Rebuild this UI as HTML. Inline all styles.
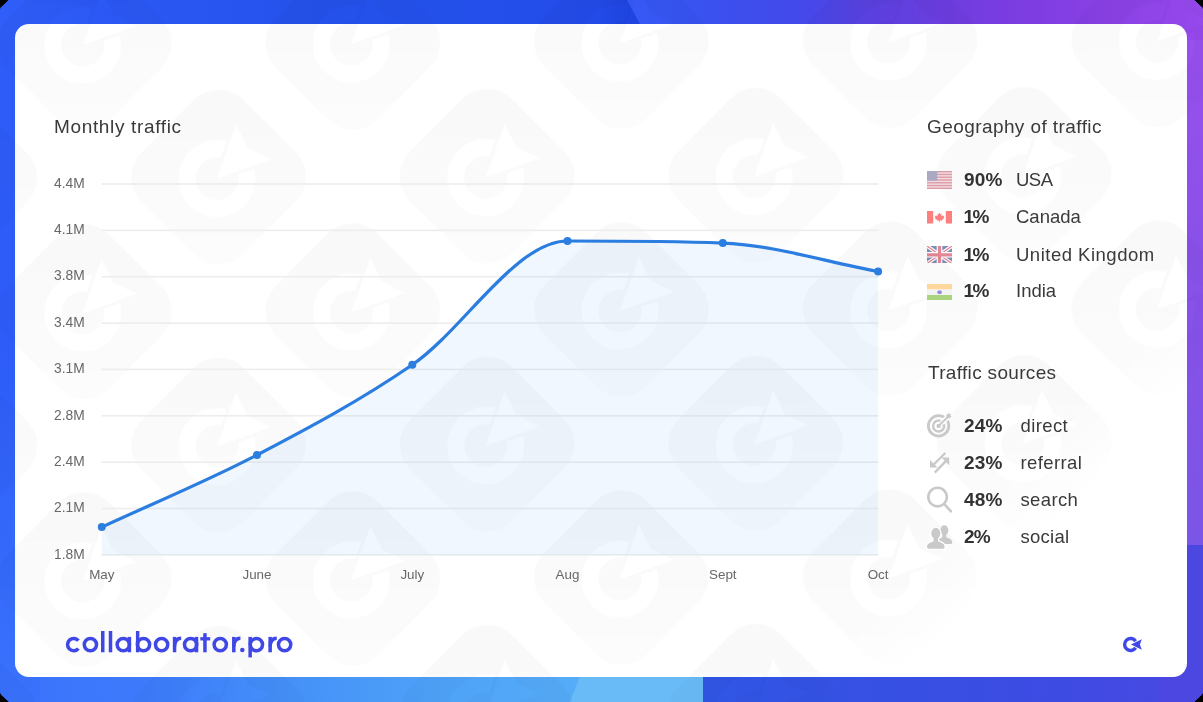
<!DOCTYPE html>
<html><head><meta charset="utf-8">
<style>
html,body{margin:0;padding:0;background:#000;}
body{width:1203px;height:702px;overflow:hidden;position:relative;font-family:"Liberation Sans",sans-serif;}
#bg{position:absolute;left:0;top:0;}
#card{position:absolute;left:15px;top:24px;width:1172px;height:653px;border-radius:14px;background:#fff;overflow:hidden;}
svg.wm{position:absolute;left:0;top:0;}
#chart{position:absolute;left:0;top:0;}
#txt{position:absolute;left:0;top:0;width:1203px;height:702px;will-change:transform;transform:translateZ(0);opacity:.999;}
.t{position:absolute;color:#3a3a3a;font-size:19px;white-space:nowrap;line-height:20px;}
.yl{position:absolute;left:54px;color:#686868;font-size:13.8px;line-height:16px;white-space:nowrap;}
.xl{position:absolute;top:567px;width:60px;text-align:center;color:#686868;font-size:13.4px;line-height:16px;white-space:nowrap;}
.pc{position:absolute;left:964px;color:#333;font-weight:bold;font-size:19px;letter-spacing:.2px;line-height:20px;white-space:nowrap;}
.nm{position:absolute;color:#3a3a3a;font-size:18.5px;line-height:20px;white-space:nowrap;}
.fl{position:absolute;left:927px;width:25px;opacity:.5;}
.ic{position:absolute;}
</style></head><body>
<svg id="bg" width="1203" height="702" viewBox="0 0 1203 702">
<defs>
<clipPath id="bgc"><path d="M9 0 H1194 L1202 7.5 L1203 10 V692 L1202 694.5 L1194 702 H9 L1 694.5 L0 692 V10 L1 7.5 Z"/></clipPath>
<linearGradient id="gl" x1="0" y1="0" x2="0" y2="1"><stop offset="0" stop-color="#2e5cf8"/><stop offset=".5" stop-color="#2d5cf8"/><stop offset="1" stop-color="#3a72fc"/></linearGradient>
<linearGradient id="gr" x1="0" y1="0" x2="0" y2="1"><stop offset="0" stop-color="#9a4fee"/><stop offset=".45" stop-color="#8a50ea"/><stop offset="1" stop-color="#7b55e8"/></linearGradient>
<linearGradient id="gt1" gradientUnits="userSpaceOnUse" x1="0" y1="0" x2="650" y2="0"><stop offset="0" stop-color="#2f5ef8"/><stop offset=".15" stop-color="#2c59f5"/><stop offset=".46" stop-color="#2552eb"/><stop offset=".77" stop-color="#244fea"/><stop offset=".92" stop-color="#234be8"/><stop offset=".95" stop-color="#2046e2"/><stop offset="1" stop-color="#1f44e0"/></linearGradient>
<linearGradient id="gt2" gradientUnits="userSpaceOnUse" x1="630" y1="0" x2="1203" y2="0"><stop offset="0" stop-color="#3659f5"/><stop offset=".12" stop-color="#3952f0"/><stop offset=".3" stop-color="#4449ea"/><stop offset=".42" stop-color="#5a40de"/><stop offset=".65" stop-color="#7a3ce0"/><stop offset=".82" stop-color="#8840e4"/><stop offset="1" stop-color="#9649ec"/></linearGradient>
<linearGradient id="gb1" gradientUnits="userSpaceOnUse" x1="0" y1="0" x2="703" y2="0"><stop offset="0" stop-color="#3a72fc"/><stop offset=".21" stop-color="#3d7bfb"/><stop offset=".43" stop-color="#4592f8"/><stop offset=".64" stop-color="#4fa3f8"/><stop offset=".82" stop-color="#55acf7"/><stop offset="1" stop-color="#58aef7"/></linearGradient>
<linearGradient id="gb2" gradientUnits="userSpaceOnUse" x1="703" y1="0" x2="1203" y2="0"><stop offset="0" stop-color="#3056e5"/><stop offset=".4" stop-color="#374fe3"/><stop offset=".7" stop-color="#3d4be3"/><stop offset="1" stop-color="#4948e1"/></linearGradient>
</defs>
<g clip-path="url(#bgc)">
<rect width="1203" height="702" fill="#3a5af0"/>
<rect x="0" y="0" width="40" height="702" fill="url(#gl)"/>
<rect x="1160" y="0" width="43" height="545" fill="url(#gr)"/>
<rect x="1160" y="545" width="43" height="157" fill="#4c47e0"/>
<rect x="0" y="0" width="660" height="40" fill="url(#gt1)"/>
<path d="M627 0 H1203 V40 H648.7 Z" fill="url(#gt2)"/>
<rect x="40" y="640" width="663" height="62" fill="url(#gb1)"/>
<path d="M594 640 H703 V702 H570 Z" fill="#69bbf7"/>
<rect x="703" y="640" width="457" height="62" fill="url(#gb2)"/>
</g>
</svg>
<div id="card">
</div>
<svg class="wm" width="1203" height="702" viewBox="0 0 1203 702">
<defs>
<mask id="lm" maskUnits="userSpaceOnUse" x="-110" y="-110" width="220" height="220">
 <rect x="-110" y="-110" width="220" height="220" fill="#fff"/>
 <g transform="rotate(-45) translate(-2 0)">
 <circle cx="0" cy="0" r="30" fill="none" stroke="#000" stroke-width="17"/>
 <path d="M-7 0 L60 -33 L50 0 L60 33 Z" fill="#fff"/>
 <path d="M0 0 L51.5 -24.7 L43 0 L51.5 24.7 Z" fill="#000"/>
 </g>
</mask>
<linearGradient id="wg" x1="1" y1="0" x2="0" y2="1"><stop offset="0.1" stop-color="#000" stop-opacity="0.025"/><stop offset="0.9" stop-color="#000" stop-opacity="0.012"/></linearGradient>
<g id="wm"><g mask="url(#lm)"><rect x="-72" y="-72" width="144" height="144" rx="35" transform="rotate(-45)" fill="url(#wg)"/></g></g>
<linearGradient id="fg" gradientUnits="userSpaceOnUse" x1="740" y1="740" x2="800" y2="800"><stop offset="0" stop-color="#fff"/><stop offset="1" stop-color="#000"/></linearGradient>
<mask id="fm" maskUnits="userSpaceOnUse" x="0" y="0" width="1203" height="702"><rect width="1203" height="702" fill="url(#fg)"/></mask>
<clipPath id="oc"><path d="M9 0 H1194 L1202 7.5 L1203 10 V692 L1202 694.5 L1194 702 H9 L1 694.5 L0 692 V10 L1 7.5 Z"/></clipPath>
</defs>
<g clip-path="url(#oc)"><g mask="url(#fm)"><g transform="matrix(1 -0.0035 0 1 0 0.3)"><use href="#wm" x="-50.1" y="-90.5"/><use href="#wm" x="218.5" y="-90.5"/><use href="#wm" x="487.1" y="-90.5"/><use href="#wm" x="755.7" y="-90.5"/><use href="#wm" x="1024.3" y="-90.5"/><use href="#wm" x="1292.9" y="-90.5"/><use href="#wm" x="-50.1" y="177.5"/><use href="#wm" x="218.5" y="177.5"/><use href="#wm" x="84.2" y="43.5"/><use href="#wm" x="487.1" y="177.5"/><use href="#wm" x="352.8" y="43.5"/><use href="#wm" x="755.7" y="177.5"/><use href="#wm" x="621.4" y="43.5"/><use href="#wm" x="1024.3" y="177.5"/><use href="#wm" x="890.0" y="43.5"/><use href="#wm" x="1292.9" y="177.5"/><use href="#wm" x="1158.6" y="43.5"/><use href="#wm" x="-50.1" y="445.5"/><use href="#wm" x="218.5" y="445.5"/><use href="#wm" x="84.2" y="311.5"/><use href="#wm" x="487.1" y="445.5"/><use href="#wm" x="352.8" y="311.5"/><use href="#wm" x="755.7" y="445.5"/><use href="#wm" x="621.4" y="311.5"/><use href="#wm" x="1024.3" y="445.5"/><use href="#wm" x="890.0" y="311.5"/><use href="#wm" x="1292.9" y="445.5"/><use href="#wm" x="1158.6" y="311.5"/><use href="#wm" x="-50.1" y="713.5"/><use href="#wm" x="218.5" y="713.5"/><use href="#wm" x="84.2" y="579.5"/><use href="#wm" x="487.1" y="713.5"/><use href="#wm" x="352.8" y="579.5"/><use href="#wm" x="755.7" y="713.5"/><use href="#wm" x="621.4" y="579.5"/><use href="#wm" x="890.0" y="579.5"/></g></g></g>
</svg>
<svg id="chart" width="1203" height="702" viewBox="0 0 1203 702">
<rect x="101.5" y="183.2" width="777" height="1.6" fill="#ededed"/><rect x="101.5" y="229.6" width="777" height="1.6" fill="#ededed"/><rect x="101.5" y="275.9" width="777" height="1.6" fill="#ededed"/><rect x="101.5" y="322.3" width="777" height="1.6" fill="#ededed"/><rect x="101.5" y="368.6" width="777" height="1.6" fill="#ededed"/><rect x="101.5" y="415.0" width="777" height="1.6" fill="#ededed"/><rect x="101.5" y="461.4" width="777" height="1.6" fill="#ededed"/><rect x="101.5" y="507.7" width="777" height="1.6" fill="#ededed"/><rect x="101.5" y="554.1" width="777" height="1.6" fill="#ededed"/>
<path d="M101.80 527.10 C153.53 503.07 205.27 482.04 257.00 455.00 C308.77 427.94 360.53 400.48 412.30 364.80 C464.03 329.14 515.77 241.00 567.50 241.00 C619.27 241.00 671.03 241.00 722.80 243.10 C774.57 245.20 826.33 262.03 878.10 271.50 L878.1 554.9 L101.8 554.9 Z" fill="#298df1" fill-opacity="0.07"/>
<path d="M101.80 527.10 C153.53 503.07 205.27 482.04 257.00 455.00 C308.77 427.94 360.53 400.48 412.30 364.80 C464.03 329.14 515.77 241.00 567.50 241.00 C619.27 241.00 671.03 241.00 722.80 243.10 C774.57 245.20 826.33 262.03 878.10 271.50" fill="none" stroke="#2b7de0" stroke-width="3.2" stroke-linecap="round"/>
<g fill="#2b7de0"><circle cx="101.8" cy="527.1" r="4"/><circle cx="257.0" cy="455.0" r="4"/><circle cx="412.3" cy="364.8" r="4"/><circle cx="567.5" cy="241.0" r="4"/><circle cx="722.8" cy="243.1" r="4"/><circle cx="878.1" cy="271.5" r="4"/></g>
</svg>
<div class="t" style="left:54px;top:117px;letter-spacing:.65px">Monthly traffic</div>
<div class="t" style="left:927px;top:117px;letter-spacing:.42px">Geography of traffic</div>
<div class="t" style="left:928px;top:362.5px;letter-spacing:.32px">Traffic sources</div>

<div class="pc" style="top:169.7px">90%</div><div class="nm" style="left:1016px;top:169.7px;letter-spacing:-.5px">USA</div>
<div class="pc" style="top:206.7px;letter-spacing:-1.7px;left:963.6px">1%</div><div class="nm" style="left:1016px;top:206.7px">Canada</div>
<div class="pc" style="top:244.6px;letter-spacing:-1.7px;left:963.6px">1%</div><div class="nm" style="left:1016px;top:244.6px;letter-spacing:.5px">United Kingdom</div>
<div class="pc" style="top:281.4px;letter-spacing:-1.7px;left:963.6px">1%</div><div class="nm" style="left:1016px;top:281.4px">India</div>

<div class="pc" style="top:415.6px">24%</div><div class="nm" style="left:1020.5px;top:415.6px;letter-spacing:.4px">direct</div>
<div class="pc" style="top:452.6px">23%</div><div class="nm" style="left:1020.5px;top:452.6px;letter-spacing:.4px">referral</div>
<div class="pc" style="top:490.2px">48%</div><div class="nm" style="left:1020.5px;top:490.2px;letter-spacing:.35px">search</div>
<div class="pc" style="top:527.3px;letter-spacing:-.9px">2%</div><div class="nm" style="left:1020.5px;top:527.3px;letter-spacing:.25px">social</div>
<svg style="position:absolute;left:927px;top:171px" width="25" height="18" viewBox="0 0 25 18"><rect width="25" height="18" fill="#f3dde1"/><rect y="0.000" width="25" height="1.385" fill="#dc9ba7"/><rect y="2.769" width="25" height="1.385" fill="#dc9ba7"/><rect y="5.538" width="25" height="1.385" fill="#dc9ba7"/><rect y="8.308" width="25" height="1.385" fill="#dc9ba7"/><rect y="11.077" width="25" height="1.385" fill="#dc9ba7"/><rect y="13.846" width="25" height="1.385" fill="#dc9ba7"/><rect y="16.615" width="25" height="1.385" fill="#dc9ba7"/><rect width="10.2" height="9.692" fill="#a9a9c4"/></svg><svg class="fl" style="left:927px;top:211px" width="25" height="12.5" viewBox="0 0 25 12.5"><rect width="25" height="12.5" fill="#fff"/><rect width="6.2" height="12.5" fill="#f00"/><rect x="18.8" width="6.2" height="12.5" fill="#f00"/><path fill="#f00" d="M12.5 1.4 L13.5 3.3 L14.6 2.8 L14.2 5.4 L15.4 4.3 L15.7 5.1 L17.2 4.8 L16.7 6.5 L17.4 6.9 L14.9 8.9 L15.2 9.8 L12.8 9.5 L12.85 11.6 L12.15 11.6 L12.2 9.5 L9.8 9.8 L10.1 8.9 L7.6 6.9 L8.3 6.5 L7.8 4.8 L9.3 5.1 L9.6 4.3 L10.8 5.4 L10.4 2.8 L11.5 3.3 Z"/></svg><svg class="fl" style="left:927px;top:245.8px" width="25" height="17.6" viewBox="0 0 25 17.6"><clipPath id="ukc"><rect width="25" height="17.6"/></clipPath><g clip-path="url(#ukc)"><rect width="25" height="17.6" fill="#012169"/><path d="M0 0 L25 17.6 M25 0 L0 17.6" stroke="#fff" stroke-width="3.6"/><path d="M0 0 L25 17.6 M25 0 L0 17.6" stroke="#c8102e" stroke-width="1.3"/><path d="M12.5 0 V17.6 M0 8.8 H25" stroke="#fff" stroke-width="5.6"/><path d="M12.5 0 V17.6 M0 8.8 H25" stroke="#c8102e" stroke-width="3.3"/></g></svg><svg style="position:absolute;left:927px;top:283.7px" width="25" height="16.5" viewBox="0 0 25 16.5"><rect width="25" height="5.5" fill="#fdd79b"/><rect y="5.5" width="25" height="5.5" fill="#f3f3f3"/><rect y="11" width="25" height="5.5" fill="#a9d37c"/><ellipse cx="12.6" cy="8.25" rx="2.3" ry="2.1" fill="#9590d6"/></svg>
<svg style="position:absolute;left:0;top:0" width="1203" height="702" viewBox="0 0 1203 702"><g fill="none" stroke="#c9c9c9"><circle cx="938.6" cy="425.9" r="10.2" stroke-width="2.8"/><circle cx="938.6" cy="425.9" r="5.5" stroke-width="2.5"/></g><circle cx="938.6" cy="425.9" r="2.2" fill="#c9c9c9"/><path d="M941.6 422.9 L951.2 413.6" stroke="#fff" stroke-width="5" fill="none"/><path d="M938.6 425.9 L950.6 414.2" stroke="#c9c9c9" stroke-width="2" fill="none"/><path d="M946.6 418.0 L946.4 415.0 L948.8 412.8 L949.0 415.8 L951.8 416.0 L949.8 418.2 Z" fill="#c9c9c9"/><path d="M945.3 453.0 L933.2 465.0" stroke="#c9c9c9" stroke-width="2.4" fill="none"/><path d="M930.0 460.0 L930.0 467.6 L937.6 467.6 Z" fill="#c9c9c9"/><path d="M934.8 472.6 L946.5 460.3" stroke="#c9c9c9" stroke-width="2.4" fill="none"/><path d="M941.6 457.6 L949.2 457.6 L949.2 465.2 Z" fill="#c9c9c9"/><circle cx="937.6" cy="497.1" r="9.3" stroke="#c9c9c9" stroke-width="2.6" fill="none"/><path d="M944.6 504.3 L950.9 511.3" stroke="#c9c9c9" stroke-width="2.6" stroke-linecap="round" fill="none"/><g fill="#c9c9c9"><g transform="translate(944.3 536.0) scale(0.9)" ><ellipse cx="0" cy="-6.4" rx="4.5" ry="5.6"/><path d="M-2.2 -2 L-2.2 1.4 C-4 2.6 -8.8 3 -8.8 7 C-8.8 8.6 -8 9 -7 9 L7 9 C8 9 8.8 8.6 8.8 7 C8.8 3 4 2.6 2.2 1.4 L2.2 -2 Z"/></g></g><g fill="#fff" stroke="#fff" stroke-width="2.6"><g transform="translate(935.8 539.8) scale(1.0)" ><ellipse cx="0" cy="-6.4" rx="4.5" ry="5.6"/><path d="M-2.2 -2 L-2.2 1.4 C-4 2.6 -8.8 3 -8.8 7 C-8.8 8.6 -8 9 -7 9 L7 9 C8 9 8.8 8.6 8.8 7 C8.8 3 4 2.6 2.2 1.4 L2.2 -2 Z"/></g></g><g fill="#c9c9c9"><g transform="translate(935.8 539.8) scale(1.0)" ><ellipse cx="0" cy="-6.4" rx="4.5" ry="5.6"/><path d="M-2.2 -2 L-2.2 1.4 C-4 2.6 -8.8 3 -8.8 7 C-8.8 8.6 -8 9 -7 9 L7 9 C8 9 8.8 8.6 8.8 7 C8.8 3 4 2.6 2.2 1.4 L2.2 -2 Z"/></g></g></svg>
<svg style="position:absolute;left:0;top:0" width="1203" height="702" viewBox="0 0 1203 702"><g fill="none" stroke="#3f47e6" stroke-width="3.5"><path d="M78.41 648.55 A6.15 6.15 0 1 1 78.41 640.65"/><circle cx="90.40" cy="644.60" r="6.15"/><path d="M102.75 631.00 V652.30"/><path d="M110.50 631.00 V652.30"/><circle cx="123.30" cy="644.60" r="6.15"/><path d="M129.40 636.90 V652.30"/><path d="M137.65 631.00 V652.30"/><circle cx="143.50" cy="644.60" r="6.15"/><circle cx="161.60" cy="644.60" r="6.15"/><path d="M174.55 652.3 V636.9"/><path d="M174.55 646.5 Q174.85 638.3 181.15 638.3"/><circle cx="190.60" cy="644.60" r="6.15"/><path d="M196.50 636.90 V652.30"/><path d="M204.95 633.20 V652.30"/><path d="M200.3 638.8 H210.2" stroke-width="3.3"/><circle cx="220.25" cy="644.60" r="6.15"/><path d="M233.80 652.3 V636.9"/><path d="M233.80 646.5 Q234.10 638.3 240.40 638.3"/><circle cx="242.3" cy="650.1" r="2.25" fill="#3f47e6" stroke="none"/><path d="M250.15 636.90 V657.40"/><circle cx="256.40" cy="644.60" r="6.15"/><path d="M270.15 652.3 V636.9"/><path d="M270.15 646.5 Q270.45 638.3 276.75 638.3"/><circle cx="284.60" cy="644.60" r="6.15"/></g><path d="M1135.63 647.77 A6.00 6.00 0 1 1 1135.63 641.23" fill="none" stroke="#3f47e6" stroke-width="3.4"/><path d="M1131.0 644.5 L1141.8 639.3 L1139.9 644.5 L1141.8 649.7 Z" fill="#3f47e6" stroke="#fff" stroke-width="0.8" paint-order="stroke"/></svg>
<div id="txt"><div class="yl" style="top:175.7px">4.4M</div><div class="yl" style="top:222.1px">4.1M</div><div class="yl" style="top:268.4px">3.8M</div><div class="yl" style="top:314.8px">3.4M</div><div class="yl" style="top:361.1px">3.1M</div><div class="yl" style="top:407.5px">2.8M</div><div class="yl" style="top:453.9px">2.4M</div><div class="yl" style="top:500.2px">2.1M</div><div class="yl" style="top:546.6px">1.8M</div><div class="xl" style="left:71.8px">May</div><div class="xl" style="left:227.0px">June</div><div class="xl" style="left:382.3px">July</div><div class="xl" style="left:537.5px">Aug</div><div class="xl" style="left:692.8px">Sept</div><div class="xl" style="left:848.1px">Oct</div></div>
</body></html>
